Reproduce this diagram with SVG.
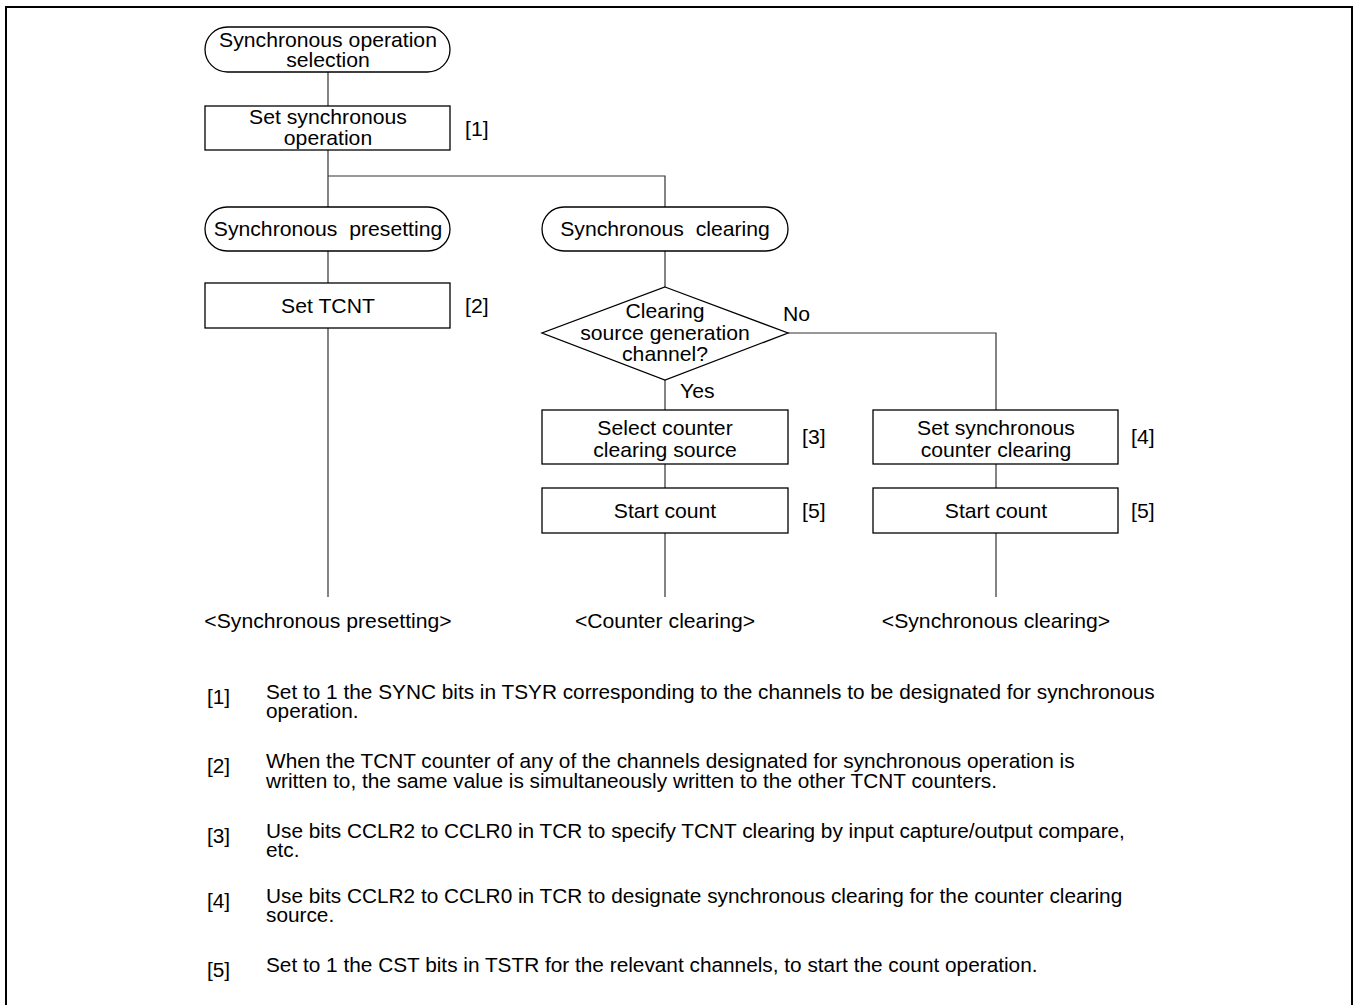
<svg xmlns="http://www.w3.org/2000/svg" width="1356" height="1005" viewBox="0 0 1356 1005">
<style>
text{font-family:"Liberation Sans",Arial,sans-serif;fill:#000}
.n{font-size:20px;text-anchor:middle}
.r{font-size:20px}
.t{font-size:19.5px}
.s{fill:#fff;stroke:#000;stroke-width:1.3}
.c{fill:none;stroke:#333;stroke-width:1.2}
</style>
<rect x="0" y="0" width="1356" height="1005" fill="#fff"/>
<rect x="6" y="7" width="1346" height="1010" fill="none" stroke="#000" stroke-width="2"/>
<g id="connectors">
<path class="c" d="M328 72V106M328 150V208M328 176H665V208M328 251V283M328 328V597M665 251V287M665 380V410M665 464V488M665 533V597M788 333H996V410M996 464V488M996 533V597"/>
</g>
<g id="start"><rect class="s" x="205" y="27" width="245" height="45" rx="22.5"/><text class="n" transform="translate(328 47) scale(1.06 1)">Synchronous operation</text><text class="n" transform="translate(328 67) scale(1.06 1)">selection</text></g>
<g id="setsync"><rect class="s" x="205" y="106" width="245" height="44"/><text class="n" transform="translate(328 124) scale(1.06 1)">Set synchronous</text><text class="n" transform="translate(328 145) scale(1.06 1)">operation</text><text class="r" transform="translate(465 136) scale(1.06 1)">[1]</text></g>
<g id="preset"><rect class="s" x="205" y="207" width="245" height="44" rx="22"/><text class="n" transform="translate(328 236) scale(1.06 1)" xml:space="preserve">Synchronous  presetting</text></g>
<g id="clear"><rect class="s" x="542" y="207" width="246" height="44" rx="22"/><text class="n" transform="translate(665 236) scale(1.06 1)" xml:space="preserve">Synchronous  clearing</text></g>
<g id="settcnt"><rect class="s" x="205" y="283" width="245" height="45"/><text class="n" transform="translate(328 313) scale(1.06 1)">Set TCNT</text><text class="r" transform="translate(465 313) scale(1.06 1)">[2]</text></g>
<g id="decision"><polygon class="s" points="665,287 788,333 665,380 542,333"/><text class="n" transform="translate(665 318) scale(1.06 1)">Clearing</text><text class="n" transform="translate(665 340) scale(1.06 1)">source generation</text><text class="n" transform="translate(665 361) scale(1.06 1)">channel?</text><text class="r" transform="translate(783 321) scale(1.06 1)">No</text><text class="r" transform="translate(680 398) scale(1.06 1)">Yes</text></g>
<g id="selsrc"><rect class="s" x="542" y="410" width="246" height="54"/><text class="n" transform="translate(665 435) scale(1.06 1)">Select counter</text><text class="n" transform="translate(665 457) scale(1.06 1)">clearing source</text><text class="r" transform="translate(802 444) scale(1.06 1)">[3]</text></g>
<g id="start1"><rect class="s" x="542" y="488" width="246" height="45"/><text class="n" transform="translate(665 518) scale(1.06 1)">Start count</text><text class="r" transform="translate(802 518) scale(1.06 1)">[5]</text></g>
<g id="setsyncclr"><rect class="s" x="873" y="410" width="245" height="54"/><text class="n" transform="translate(996 435) scale(1.06 1)">Set synchronous</text><text class="n" transform="translate(996 457) scale(1.06 1)">counter clearing</text><text class="r" transform="translate(1131 444) scale(1.06 1)">[4]</text></g>
<g id="start2"><rect class="s" x="873" y="488" width="245" height="45"/><text class="n" transform="translate(996 518) scale(1.06 1)">Start count</text><text class="r" transform="translate(1131 518) scale(1.06 1)">[5]</text></g>
<g id="ends">
<text class="n" transform="translate(328 628) scale(1.06 1)">&lt;Synchronous presetting&gt;</text>
<text class="n" transform="translate(665 628) scale(1.06 1)">&lt;Counter clearing&gt;</text>
<text class="n" transform="translate(996 628) scale(1.06 1)">&lt;Synchronous clearing&gt;</text>
</g>
<g id="notes">
<text class="t" transform="translate(207 704) scale(1.067 1)">[1]</text>
<text class="t" transform="translate(266 699) scale(1.067 1)">Set to 1 the SYNC bits in TSYR corresponding to the channels to be designated for synchronous</text>
<text class="t" transform="translate(266 718) scale(1.067 1)">operation.</text>
<text class="t" transform="translate(207 773) scale(1.067 1)">[2]</text>
<text class="t" transform="translate(266 768) scale(1.067 1)">When the TCNT counter of any of the channels designated for synchronous operation is</text>
<text class="t" transform="translate(266 788) scale(1.067 1)">written to, the same value is simultaneously written to the other TCNT counters.</text>
<text class="t" transform="translate(207 843) scale(1.067 1)">[3]</text>
<text class="t" transform="translate(266 838) scale(1.067 1)">Use bits CCLR2 to CCLR0 in TCR to specify TCNT clearing by input capture/output compare,</text>
<text class="t" transform="translate(266 857) scale(1.067 1)">etc.</text>
<text class="t" transform="translate(207 908) scale(1.067 1)">[4]</text>
<text class="t" transform="translate(266 903) scale(1.067 1)">Use bits CCLR2 to CCLR0 in TCR to designate synchronous clearing for the counter clearing</text>
<text class="t" transform="translate(266 922) scale(1.067 1)">source.</text>
<text class="t" transform="translate(207 977) scale(1.067 1)">[5]</text>
<text class="t" transform="translate(266 972) scale(1.067 1)">Set to 1 the CST bits in TSTR for the relevant channels, to start the count operation.</text>
</g>
</svg>
